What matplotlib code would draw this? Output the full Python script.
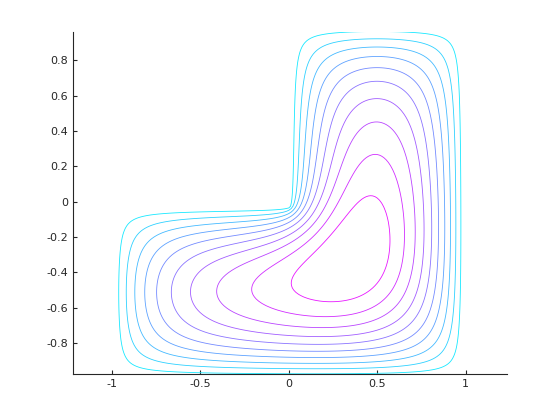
import numpy as np
import matplotlib
matplotlib.use('Agg')
import matplotlib.pyplot as plt

# L-shaped membrane, -laplace(u) = f, u = 0 on the boundary
x_range = [-1.0, 1.0]
y_range = [-1.0, 1.0]
notch_x = 0.0      # left wall of the upper arm
notch_y = -0.025   # top wall of the left arm
source = 1.0
n_levels = 10
h = 0.0125

xs = np.arange(x_range[0], x_range[1] + h / 2, h)
ys = np.arange(y_range[0], y_range[1] + h / 2, h)
X, Y = np.meshgrid(xs, ys)
eps = 1e-9
inside = (X > x_range[0] + eps) & (X < x_range[1] - eps) & \
         (Y > y_range[0] + eps) & (Y < y_range[1] - eps) & \
         ~((X < notch_x + eps) & (Y > notch_y - eps))


def lap(u):
    v = (4 * u - np.roll(u, 1, 0) - np.roll(u, -1, 0)
         - np.roll(u, 1, 1) - np.roll(u, -1, 1)) / h**2
    return np.where(inside, v, 0.0)


# conjugate gradients
b = np.where(inside, source, 0.0)
u = np.zeros_like(X)
r = b - lap(u)
p = r.copy()
rr = np.sum(r * r)
for it in range(3000):
    Ap = lap(p)
    alpha = rr / np.sum(p * Ap)
    u += alpha * p
    r -= alpha * Ap
    rr_new = np.sum(r * r)
    if np.sqrt(rr_new) < 1e-10:
        break
    p = r + (rr_new / rr) * p
    rr = rr_new

U = np.where(inside, u, np.nan)
zmin, zmax = 0.0, np.nanmax(U)
levels = np.linspace(zmin, zmax, n_levels + 2)[1:-1]

fig = plt.figure(figsize=(5.6, 4.2), dpi=100)
ax = fig.add_axes([0.13, 0.11, 0.775, 0.815])
cs = ax.contour(X, Y, np.where(inside, u, 0.0), levels=levels, cmap='cool',
                vmin=zmin, vmax=zmax, linewidths=0.6)

# tight in y, equal aspect -> x range follows
segs = [s for lev in cs.allsegs for s in lev if len(s)]
allpts = np.vstack(segs)
y0, y1 = allpts[:, 1].min(), allpts[:, 1].max()
xc = 0.5 * (allpts[:, 0].min() + allpts[:, 0].max())
half = 0.5 * (y1 - y0) * (0.775 * 560) / (0.815 * 420)
ax.set_ylim(y0, y1)
ax.set_xlim(xc - half, xc + half)

ax.set_xticks([-1, -0.5, 0, 0.5, 1])
ax.set_xticklabels(['-1', '-0.5', '0', '0.5', '1'])
ax.set_yticks([-0.8, -0.6, -0.4, -0.2, 0, 0.2, 0.4, 0.6, 0.8])
ax.set_yticklabels(['-0.8', '-0.6', '-0.4', '-0.2', '0', '0.2', '0.4', '0.6', '0.8'])
ax.spines['top'].set_visible(False)
ax.spines['right'].set_visible(False)
ax.tick_params(direction='in', length=3, labelsize=8, colors='#262626')
for s in ['left', 'bottom']:
    ax.spines[s].set_color('#262626')

fig.savefig('out.png', dpi=100)
